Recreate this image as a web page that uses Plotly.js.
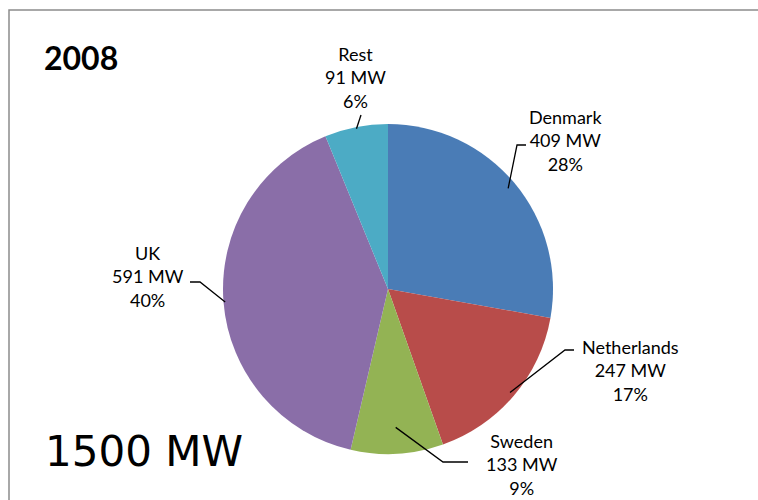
<!DOCTYPE html>
<html>
<head>
<meta charset="utf-8">
<script src="https://cdn.plot.ly/plotly-3.0.1.min.js"></script>
<style>
  html, body { margin: 0; padding: 0; background: #ffffff; }
  #chart { width: 758px; height: 500px; }
</style>
</head>
<body>
<div id="chart"></div>
<script>
// Installed offshore wind capacity by country, 2008
const countries = ["Denmark", "Netherlands", "Sweden", "UK", "Rest"];
const capacityMW = [409, 247, 133, 591, 91];
const sliceColors = ["#4a7cb6", "#b84c4a", "#93b354", "#8a6ea8", "#4cabc5"];
const yearLabel = "2008";
const totalLabel = "1500 MW";

const W = 758, H = 500;
const px = x => x / W;          // pixel -> paper x
const py = y => 1 - y / H;      // pixel -> paper y

// pie placement (pixels)
const cx = 388, cy = 289, R = 165;

// label block centres and leader elbows (pixels)
const labelPos = {
  Denmark:     { x: 565, y: 140, elbow: [[526, 145], [517, 145]], k: 0.95 },
  Netherlands: { x: 630, y: 370, elbow: [[574, 350], [565, 350]], k: 0.97 },
  Sweden:      { x: 522, y: 464, elbow: [[468, 462], [443, 462]], k: 0.84 },
  UK:          { x: 148, y: 276, elbow: [[190, 282], [200, 282]], k: 0.99 },
  Rest:        { x: 355, y: 77,  elbow: [[361, 115], [361, 115]], k: 0.99 }
};

const total = capacityMW.reduce((a, b) => a + b, 0);

const annotations = [];
const shapes = [];

// chart frame
shapes.push({
  type: "rect", xref: "paper", yref: "paper",
  x0: px(9), y0: py(510), x1: px(775), y1: py(10),
  line: { color: "#8c8c8c", width: 1.5 }, fillcolor: "rgba(0,0,0,0)"
});

let cum = 0;
countries.forEach((name, i) => {
  const v = capacityMW[i];
  const mid = (cum + v / 2) / total * 2 * Math.PI;
  cum += v;
  const p = labelPos[name];
  const ex = cx + R * p.k * Math.sin(mid);
  const ey = cy - R * p.k * Math.cos(mid);
  const pct = Math.round(v / total * 100);

  annotations.push({
    xref: "paper", yref: "paper", x: px(p.x), y: py(p.y),
    xanchor: "center", yanchor: "middle", showarrow: false,
    text: `${name}<br>${v} MW<br>${pct}%`,
    font: { family: "Lato, 'Open Sans', sans-serif", size: 18, color: "#000000" }
  });

  const [a, b] = p.elbow;
  shapes.push({
    type: "path", xref: "paper", yref: "paper",
    path: `M ${px(a[0])},${py(a[1])} L ${px(b[0])},${py(b[1])} L ${px(ex)},${py(ey)}`,
    line: { color: "#000000", width: 1.3 }
  });
});

annotations.push({
  xref: "paper", yref: "paper", x: px(42), y: py(58),
  xanchor: "left", yanchor: "middle", showarrow: false,
  text: "<b>" + yearLabel + "</b>",
  font: { family: "Lato, sans-serif", size: 32, color: "#000000" }
});

annotations.push({
  xref: "paper", yref: "paper", x: px(43), y: py(451),
  xanchor: "left", yanchor: "middle", showarrow: false,
  text: totalLabel,
  font: { family: "'DejaVu Sans', sans-serif", size: 42, color: "#000000" }
});

const trace = {
  type: "pie",
  labels: countries,
  values: capacityMW,
  sort: false,
  direction: "clockwise",
  rotation: 0,
  textinfo: "none",
  hoverinfo: "label+value+percent",
  marker: { colors: sliceColors, line: { width: 0 } },
  domain: { x: [px(cx - R), px(cx + R)], y: [py(cy + R), py(cy - R)] },
  showlegend: false
};

const layout = {
  width: W, height: H,
  margin: { l: 0, r: 0, t: 0, b: 0 },
  paper_bgcolor: "#ffffff",
  plot_bgcolor: "#ffffff",
  showlegend: false,
  annotations: annotations,
  shapes: shapes
};

Plotly.newPlot("chart", [trace], layout, { displayModeBar: false, staticPlot: true });
</script>
</body>
</html>
